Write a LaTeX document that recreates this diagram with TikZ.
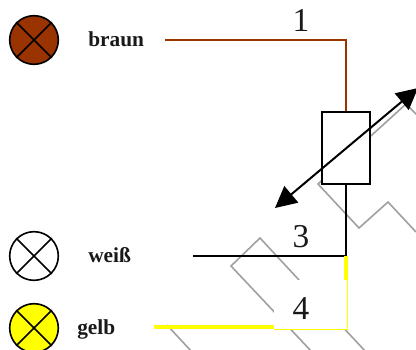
\documentclass[tikz,border=0pt]{standalone}
\usepackage{fontspec}
\setmainfont{Liberation Serif}
\usetikzlibrary{arrows.meta}
\definecolor{brn}{RGB}{153,51,0}
\definecolor{grayz}{RGB}{160,160,160}
\definecolor{ylw}{RGB}{255,255,0}
\tikzset{
  x=0.75pt,y=-0.75pt,
  lamp/.style={circle,draw=black,line width=1.2pt,minimum size=36.5pt,inner sep=0pt},
  lab/.style={font=\fontsize{16pt}{18pt}\selectfont\bfseries,anchor=base west,inner sep=0pt,text=black!90},
  num/.style={font=\fontsize{25pt}{27pt}\selectfont,anchor=base,inner sep=0pt,text=black!90},
  zig/.style={draw=grayz,line width=1.2pt},
  wire/.style={line width=1.3pt},
  cross/.style={draw=black,line width=1.2pt},
  bigarrow/.style={line width=1.5pt,{Triangle[length=16pt,width=16pt]}-{Triangle[length=16pt,width=16pt]}}
}
\begin{document}
\begin{tikzpicture}
\useasboundingbox (0,0) rectangle (416,349);
% grey background zigzags
\draw[zig] (416,232) -- (388,202) -- (359,228) -- (318,184) -- (406,104) -- (418,116);
\draw[zig] (299,280) -- (260,238) -- (231,266) -- (312,352);
\draw[zig] (299,280) -- (366,352);
\draw[zig] (167,325) -- (192,352);
% white patch
\fill[white] (274,280) rectangle (346,329);
% lamps
\node[lamp,fill=brn] (l1) at (34,40) {};
\node[lamp,fill=white] (l2) at (34,256) {};
\node[lamp,fill=ylw] (l3) at (34,328) {};
\foreach \n in {l1,l2,l3}{
  \draw[cross] (\n.45) -- (\n.225);
  \draw[cross] (\n.135) -- (\n.315);
}
% labels
\node[lab] (t1) at (88,46.5) {braun};
\node[lab] (t2) at (88,262.5) {weiß};
\node[lab] (t3) at (77,334.5) {gelb};
\node[num] (n1) at (301,31.5) {1};
\node[num] (n3) at (301,247) {3};
\node[num] (n4) at (301,319.5) {4};
% resistor
\node[draw=black,line width=1.3pt,fill=white,minimum width=36pt,minimum height=54pt,inner sep=0pt] (r) at (346,148) {};
% wires
\coordinate (b0) at (165,40);
\coordinate (b1) at (346,40);
\draw[wire,draw=brn] (b0) -- (b1) -- (r.north);
\coordinate (w0) at (193,256);
\coordinate (w1) at (346,256);
\draw[wire,draw=black] (w0) -- (w1) -- (r.south);
\coordinate (y0) at (154,327);
\coordinate (y1) at (274,327);
\draw[line width=3pt,draw=ylw] (y0) -- (y1);
\coordinate (y2) at (346,256);
\coordinate (y3) at (346,280);
\draw[line width=3pt,draw=ylw] (y2) -- (y3);
\coordinate (y4) at (347.5,280);
\coordinate (y5) at (347.5,329.5);
\coordinate (y6) at (274,329.5);
\draw[line width=1pt,draw=ylw] (y4) -- (y5) -- (y6);
% arrow
\coordinate (a0) at (275,208);
\coordinate (a1) at (418,88);
\draw[bigarrow] (a0) -- (a1);
\end{tikzpicture}
\end{document}
